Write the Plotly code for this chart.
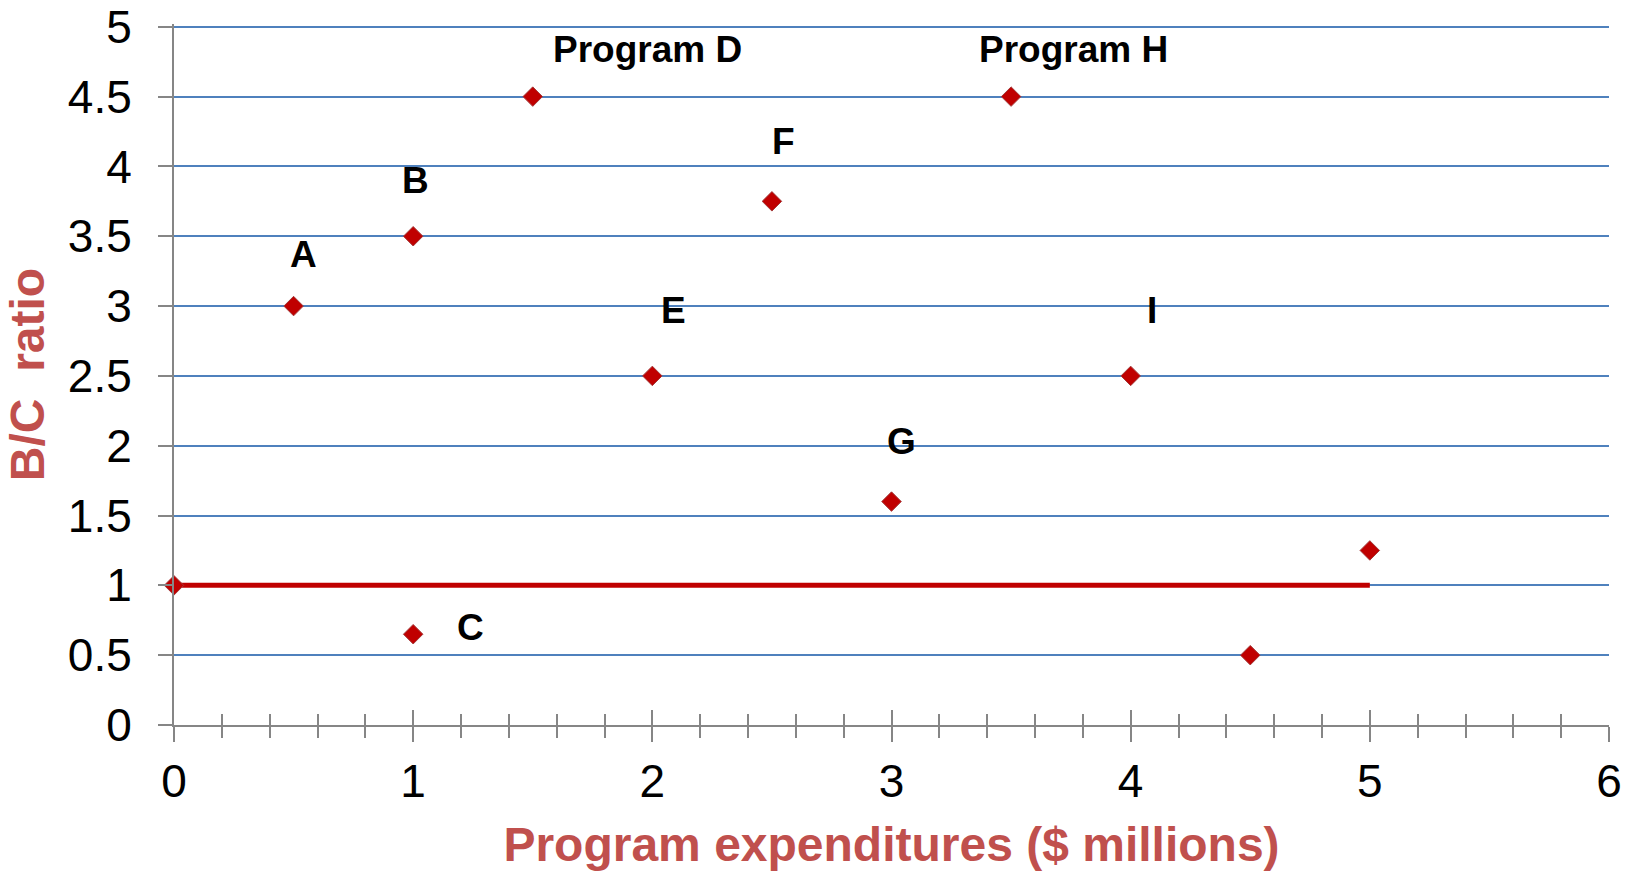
import plotly.graph_objects as go

# Data
prog_x = [0, 0.5, 1, 1, 1.5, 2, 2.5, 3, 3.5, 4, 4.5, 5]
prog_y = [1, 3, 3.5, 0.65, 4.5, 2.5, 3.75, 1.6, 4.5, 2.5, 0.5, 1.25]

line_x = [0, 5]
line_y = [1, 1]

label_text = ["A", "B", "C", "Program D", "E", "F", "G", "Program H", "I"]
label_x = [0.54, 1.01, 1.24, 1.98, 2.09, 2.55, 3.04, 3.76, 4.09]
label_y = [3.37, 3.90, 0.70, 4.84, 2.97, 4.18, 2.03, 4.84, 2.97]

x_ticks = [0, 1, 2, 3, 4, 5, 6]
y_ticks = [0, 0.5, 1, 1.5, 2, 2.5, 3, 3.5, 4, 4.5, 5]

FONT = "Liberation Sans, Arial, sans-serif"
RED = "#C00000"
TITLE_RED = "#C0504D"
GRID = "#4F81BD"
AXIS = "#868686"

fig = go.Figure()

fig.add_trace(go.Scatter(
    x=line_x, y=line_y, mode="lines",
    line=dict(color=RED, width=5), cliponaxis=False,
    hoverinfo="skip", showlegend=False,
))

fig.add_trace(go.Scatter(
    x=prog_x, y=prog_y, mode="markers",
    marker=dict(symbol="diamond", size=15, color=RED,
                line=dict(color="#A33A3A", width=1)),
    cliponaxis=False, showlegend=False,
))

# invisible trace for the overlay axis (inside half of crossing ticks)
fig.add_trace(go.Scatter(
    x=[0, 6], y=[0, 0], xaxis="x2", mode="markers",
    marker=dict(opacity=0), hoverinfo="skip", showlegend=False,
))

for t, xx, yy in zip(label_text, label_x, label_y):
    fig.add_annotation(
        x=xx, y=yy, text=t, showarrow=False,
        font=dict(family=FONT, size=37, color="black", weight="bold"),
        xanchor="center", yanchor="middle",
    )

fig.update_layout(
    width=1640, height=873,
    margin=dict(l=174, r=31, t=24, b=148),
    paper_bgcolor="white", plot_bgcolor="white",
    font=dict(family=FONT, color="black"),
    xaxis=dict(
        range=[0, 6], tickvals=x_ticks, ticktext=[str(v) for v in x_ticks],
        showgrid=False, zeroline=False, automargin=False,
        showline=True, linecolor=AXIS, linewidth=2,
        ticks="outside", ticklen=15, tickwidth=2, tickcolor=AXIS,
        minor=dict(dtick=0.2, ticks="outside", ticklen=11, tickwidth=2,
                   tickcolor=AXIS, showgrid=False),
        tickfont=dict(family=FONT, size=46, color="black"),
        ticklabelstandoff=0,
        title=dict(text="Program expenditures ($ millions)",
                   font=dict(family=FONT, size=48, color=TITLE_RED, weight="bold"),
                   standoff=21),
    ),
    xaxis2=dict(
        range=[0, 6], overlaying="x", anchor="y", side="bottom",
        tickvals=x_ticks, showticklabels=False, automargin=False,
        showgrid=False, zeroline=False, showline=False,
        ticks="inside", ticklen=15, tickwidth=2, tickcolor=AXIS,
        minor=dict(dtick=0.2, ticks="inside", ticklen=11, tickwidth=2,
                   tickcolor=AXIS, showgrid=False),
    ),
    yaxis=dict(
        range=[0, 5.02], tickvals=y_ticks, ticktext=[f"{v:g}" for v in y_ticks],
        showgrid=True, gridcolor=GRID, gridwidth=1.5,
        zeroline=False, automargin=False,
        showline=True, linecolor=AXIS, linewidth=2,
        ticks="outside", ticklen=14, tickwidth=2, tickcolor=AXIS,
        tickfont=dict(family=FONT, size=46, color="black"),
        ticklabelstandoff=17,
        title=dict(text="B/C\u00a0 ratio",
                   font=dict(family=FONT, size=48, color=TITLE_RED, weight="bold"),
                   standoff=8),
    ),
)

fig.write_html("out.html")
